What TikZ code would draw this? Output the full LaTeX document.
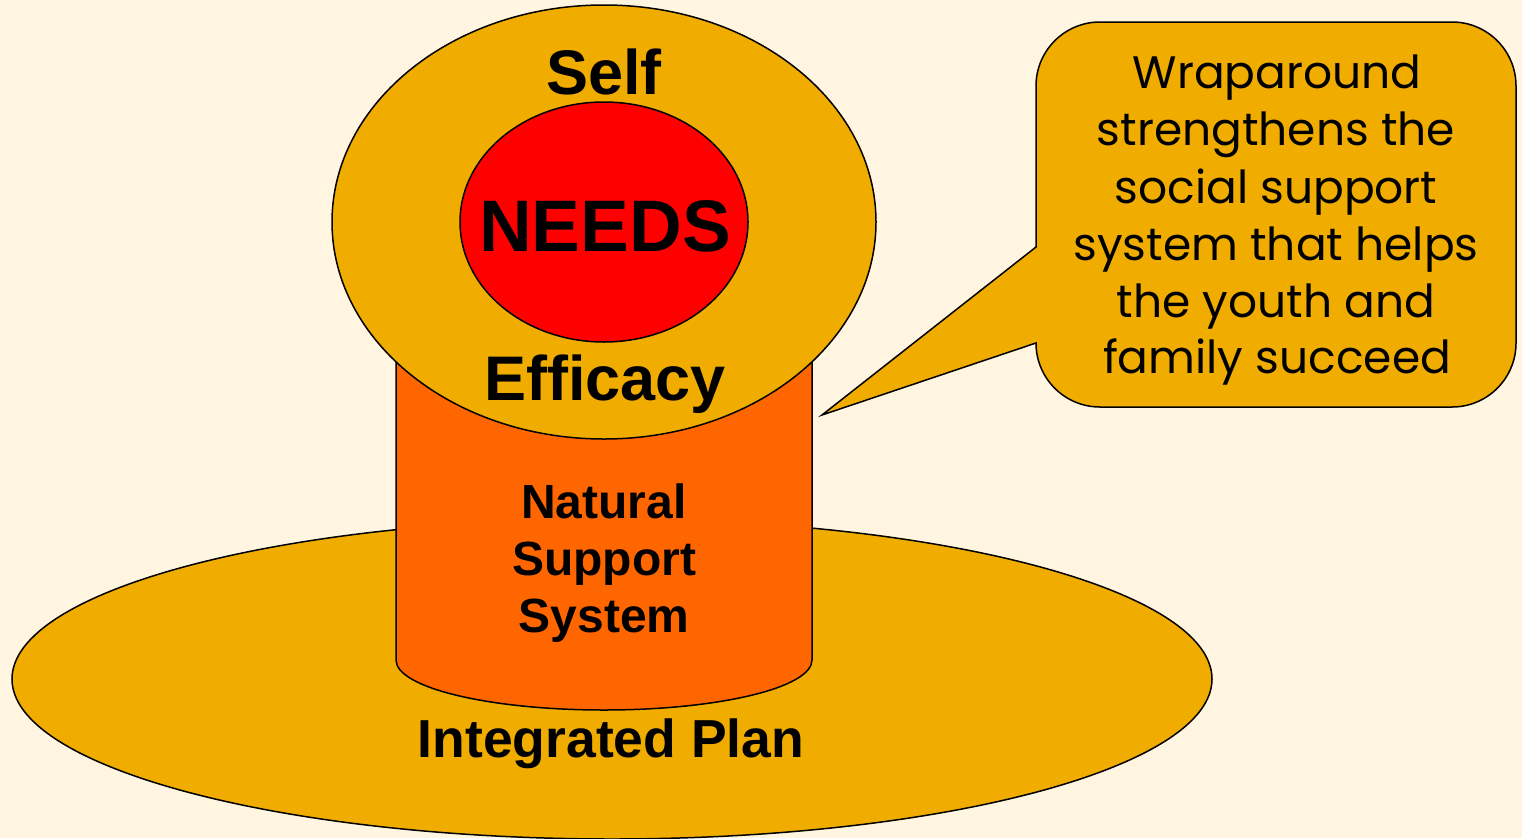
\documentclass[tikz,border=0pt]{standalone}
\usepackage{fontspec}
\setmainfont{Liberation Sans}
\newfontfamily\comicfont{Poppins}
\usetikzlibrary{shapes.geometric}
\definecolor{bgcream}{RGB}{255,245,224}
\definecolor{gold}{RGB}{240,173,0}
\definecolor{cylorange}{RGB}{255,102,0}
\definecolor{needsred}{RGB}{255,0,0}
\tikzset{
  outl/.style={draw=black, line width=1.5pt},
  oval/.style={outl, ellipse, inner sep=0pt},
  lbl/.style={anchor=base, inner sep=0pt, font=\bfseries\fontsize{#1}{#1}\selectfont},
  ctext/.style={anchor=base, inner sep=0pt, font=\comicfont\fontsize{45.5}{45.5}\selectfont}
}
\begin{document}
\begin{tikzpicture}[x=1pt,y=-1pt]
\path[fill=bgcream] (0,0) rectangle (1522,838);
\useasboundingbox (0,0) rectangle (1522,838);
% base plan ellipse
\node[oval, fill=gold, minimum width=1200pt, minimum height=320pt] (plan) at (612,679) {};
% cylinder
\draw[outl, fill=cylorange] (396,330) -- (396,660) arc[start angle=180, end angle=360, x radius=208pt, y radius=50pt] -- (812,330);
\coordinate (cyl) at (604,560);
% self efficacy ellipse
\node[oval, fill=gold, minimum width=544pt, minimum height=434pt] (self) at (604,222) {};
\node[oval, fill=needsred, minimum width=288pt, minimum height=240pt] (needs) at (604,222) {};
% callout
\draw[outl, fill=gold, line join=miter] (1036,247) -- (822,415) -- (1036,343)
  arc[start angle=180, end angle=270, radius=64pt] -- (1452,407)
  arc[start angle=270, end angle=360, radius=64pt] -- (1516,86)
  arc[start angle=0, end angle=90, radius=64pt] -- (1100,22)
  arc[start angle=90, end angle=180, radius=64pt] -- cycle;
% labels
\node[lbl=63] (tself) at (604,94) {Self};
\node[lbl=73] (tneeds) at (605,251) {NEEDS};
\node[lbl=63] (teff) at (605,400) {Efficacy};
\node[lbl=48] (tnat) at (604,518) {Natural};
\node[lbl=48] (tsup) at (604,575) {Support};
\node[lbl=48] (tsys) at (604,632) {System};
\node[lbl=53.5] (tplan) at (611,757) {Integrated Plan};
% callout text
\node[ctext] (w1) at (1277,88) {Wraparound};
\node[ctext] (w2) at (1276,145) {strengthens the};
\node[ctext] (w3) at (1276,203) {social support};
\node[ctext] (w4) at (1276,260) {system that helps};
\node[ctext] (w5) at (1276,317) {the youth and};
\node[ctext] (w6) at (1277,373) {family succeed};
\end{tikzpicture}
\end{document}
